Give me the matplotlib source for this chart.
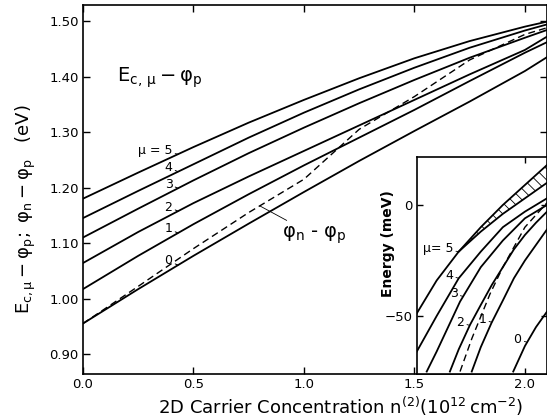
import matplotlib
matplotlib.use('Agg')
import matplotlib.pyplot as plt
import numpy as np

plt.rcParams['font.family'] = ['DejaVu Sans']
plt.rcParams['mathtext.fontset'] = 'dejavusans'
plt.rcParams['hatch.linewidth'] = 0.6

# main panel: carrier concentration (10^12 cm^-2) vs energy (eV)
n_main = [0.0, 0.25, 0.5, 0.75, 1.0, 1.25, 1.5, 1.75, 2.0, 2.1]
e_mu5 = [1.180, 1.227, 1.273, 1.317, 1.358, 1.397, 1.433, 1.464, 1.490, 1.499]
e_mu4 = [1.145, 1.194, 1.242, 1.290, 1.335, 1.377, 1.416, 1.452, 1.483, 1.494]
e_mu3 = [1.110, 1.162, 1.213, 1.262, 1.308, 1.352, 1.394, 1.434, 1.470, 1.484]
e_mu2 = [1.064, 1.120, 1.172, 1.220, 1.266, 1.312, 1.358, 1.404, 1.448, 1.472]
e_mu1 = [1.017, 1.077, 1.134, 1.188, 1.240, 1.290, 1.340, 1.392, 1.443, 1.462]
e_mu0 = [0.955, 1.017, 1.077, 1.135, 1.192, 1.248, 1.302, 1.355, 1.410, 1.435]
phi_np = [0.955, 1.022, 1.090, 1.155, 1.215, 1.305, 1.364, 1.430, 1.476, 1.488]
main_curves = [e_mu5, e_mu4, e_mu3, e_mu2, e_mu1, e_mu0]
main_labels = ['\u03bc = 5', '4', '3', '2', '1', '0']

# inset: energy (meV) near the top of the range
ins_mu5 = ([1.51, 1.60, 1.70, 1.80, 1.90, 2.00, 2.10], [-48.8, -34, -21, -12, -4, 3, 10])
ins_top = ([1.70, 1.80, 1.90, 2.00, 2.10], [-21, -10, 0, 9, 18])
ins_mu4 = ([1.51, 1.60, 1.70, 1.80, 1.90, 2.00, 2.10], [-66, -50, -33, -21, -10, -3, 3])
ins_mu3 = ([1.555, 1.60, 1.706, 1.80, 1.90, 2.00, 2.10], [-75, -66, -43.5, -28, -16, -6, 0])
ins_mu2 = ([1.66, 1.70, 1.751, 1.80, 1.85, 1.90, 1.95, 2.00, 2.05, 2.10],
           [-75, -65, -54, -45, -36, -28, -20, -13.5, -8, -3])
ins_mu1 = ([1.759, 1.80, 1.849, 1.90, 1.95, 2.00, 2.05, 2.10],
           [-75, -64, -53, -43, -33, -25, -18, -11])
ins_mu0 = ([1.947, 2.00, 2.05, 2.10], [-75, -63.5, -55, -48])
ins_phi = ([1.706, 1.76, 1.842, 1.90, 2.00, 2.10], [-75, -60, -40, -28, -10, 1])
ins_labels = ['\u03bc= 5', '4', '3', '2', '1', '0']
ins_label_x = [1.70, 1.70, 1.72, 1.75, 1.85, 2.01]

fig = plt.figure(figsize=(5.47, 4.19), dpi=100)
ax = fig.add_axes([83/547, 1-374/419, 464/547, 369/419])

for e in main_curves:
    ax.plot(n_main, e, color='black', lw=1.3)
ax.plot(n_main, phi_np, color='black', lw=1.0, ls=(0, (5, 3)))

for e, lab in zip(main_curves, main_labels):
    y = np.interp(0.43, n_main, e)
    ax.annotate(lab, xy=(0.43, y), xytext=(-4, 3), textcoords='offset points',
                ha='right', va='center', fontsize=9,
                arrowprops=dict(arrowstyle='-', lw=0.7, shrinkA=0, shrinkB=0))

ax.annotate(r'$\mathregular{\varphi_n}$ - $\mathregular{\varphi_p}$',
            xy=(0.80, np.interp(0.80, n_main, phi_np)),
            xytext=(0.90, 1.114), textcoords='data', ha='left', va='center', fontsize=14,
            arrowprops=dict(arrowstyle='-', lw=0.6, shrinkA=2, shrinkB=0))
ax.text(0.155, 1.397, r'$\mathregular{E_{c,\,\mu}-\varphi_p}$', fontsize=14, ha='left', va='center')

ax.set_xlim(0, 2.1)
ax.set_ylim(0.864, 1.529)
ax.set_xticks([0, 0.5, 1.0, 1.5, 2.0])
ax.set_xticklabels(['0.0', '0.5', '1.0', '1.5', '2.0'])
ax.set_yticks([0.9, 1.0, 1.1, 1.2, 1.3, 1.4, 1.5])
ax.set_yticklabels(['0.90', '1.00', '1.10', '1.20', '1.30', '1.40', '1.50'])
ax.tick_params(direction='in', top=True, right=True, length=5, width=1, labelsize=9.5, pad=3)
for s in ax.spines.values():
    s.set_linewidth(1.2)

fig.text(341/547, 1-406/419, r'2D Carrier Concentration $\mathregular{n^{(2)}(10^{12}\,cm^{-2})}$',
         ha='center', va='center', fontsize=13)
fig.text(26/547, 1-209/419, r'$\mathregular{E_{c,\mu}-\varphi_p;\ \varphi_n-\varphi_p}$   (eV)',
         rotation=90, ha='center', va='center', fontsize=13)

# inset
axi = fig.add_axes([417/547, 1-374/419, 130/547, 217/419])
axi.fill_between(ins_mu5[0][2:], ins_mu5[1][2:], ins_top[1], facecolor='white',
                 edgecolor='black', hatch='\\\\\\', lw=0)
for xs, ys in [ins_mu5, ins_top, ins_mu4, ins_mu3, ins_mu2, ins_mu1, ins_mu0]:
    axi.plot(xs, ys, color='black', lw=1.3)
axi.plot(ins_phi[0], ins_phi[1], color='black', lw=1.0, ls=(0, (5, 3)))

for curve, lab, lx in zip([ins_mu5, ins_mu4, ins_mu3, ins_mu2, ins_mu1, ins_mu0], ins_labels, ins_label_x):
    y = np.interp(lx, curve[0], curve[1])
    axi.annotate(lab, xy=(lx, y), xytext=(-4, 2), textcoords='offset points',
                 ha='right', va='center', fontsize=9,
                 arrowprops=dict(arrowstyle='-', lw=0.6, shrinkA=0, shrinkB=0))

axi.set_xlim(1.511, 2.1)
axi.set_ylim(-76.1, 21.6)
axi.set_xticks([2.0])
axi.set_xticklabels([])
axi.set_yticks([0, -50])
axi.set_yticklabels(['0', '\u221250'])
axi.tick_params(direction='in', top=True, right=True, length=4, width=1, labelsize=9.5, pad=3)
axi.set_ylabel('Energy (meV)', fontsize=10, fontweight='bold')
axi.yaxis.set_label_coords(-0.17, 0.60)
for s in axi.spines.values():
    s.set_linewidth(1.2)

fig.savefig('out.png', dpi=100)
